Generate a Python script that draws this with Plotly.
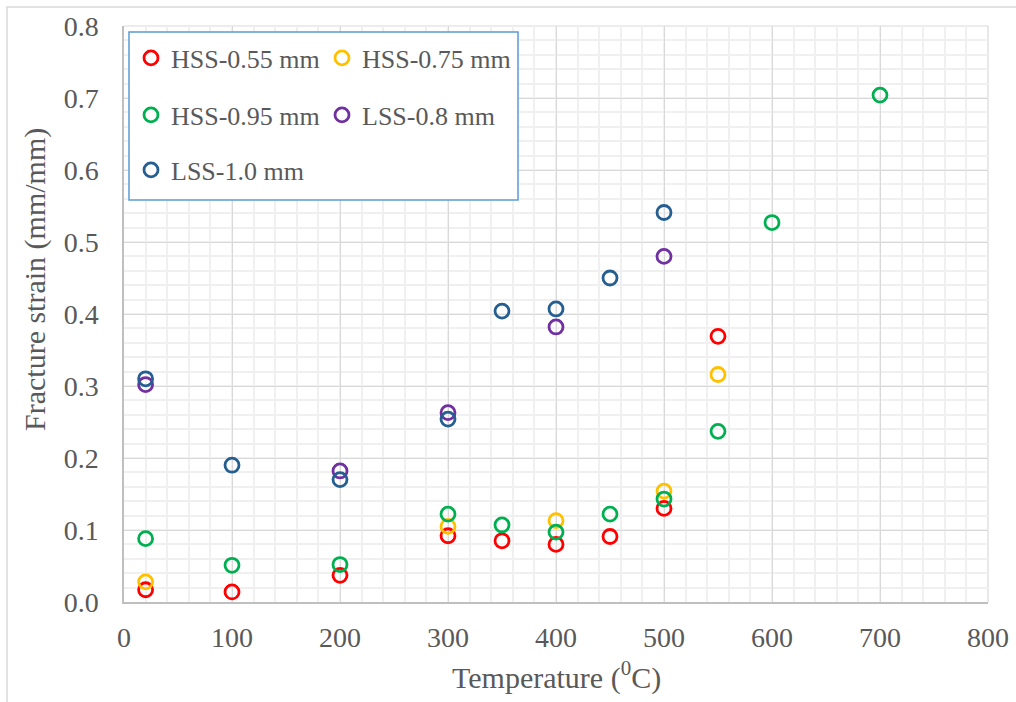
import plotly.graph_objects as go

# ---- data ----
hss055_x = [20, 100, 200, 300, 350, 400, 450, 500, 550]
hss055_y = [0.017, 0.014, 0.037, 0.092, 0.085, 0.080, 0.091, 0.130, 0.369]

hss075_x = [20, 300, 400, 500, 550]
hss075_y = [0.028, 0.105, 0.113, 0.154, 0.316]

hss095_x = [20, 100, 200, 300, 350, 400, 450, 500, 550, 600, 700]
hss095_y = [0.088, 0.051, 0.052, 0.122, 0.107, 0.097, 0.122, 0.143, 0.237, 0.527, 0.704]

lss08_x = [20, 200, 300, 400, 500]
lss08_y = [0.302, 0.182, 0.263, 0.382, 0.480]

lss10_x = [20, 100, 200, 300, 350, 400, 450, 500]
lss10_y = [0.310, 0.190, 0.170, 0.254, 0.404, 0.407, 0.450, 0.541]

series_names = ["HSS-0.55 mm", "HSS-0.75 mm", "HSS-0.95 mm", "LSS-0.8 mm", "LSS-1.0 mm"]
series_colors = ["#FF0000", "#FFC000", "#00B050", "#7030A0", "#255E91"]
series_x = [hss055_x, hss075_x, hss095_x, lss08_x, lss10_x]
series_y = [hss055_y, hss075_y, hss095_y, lss08_y, lss10_y]
series_legend = ["legend", "legend", "legend2", "legend2", "legend3"]

x_ticks = [0, 100, 200, 300, 400, 500, 600, 700, 800]
y_ticks = [0.0, 0.1, 0.2, 0.3, 0.4, 0.5, 0.6, 0.7, 0.8]

FONT = "Liberation Serif, Times New Roman, serif"
TXT = "#595959"

fig = go.Figure()
for name, col, xs, ys, lg in zip(series_names, series_colors, series_x, series_y, series_legend):
    fig.add_trace(go.Scatter(
        x=xs, y=ys, mode="markers", name=name, legend=lg,
        marker=dict(symbol="circle-open", size=14, color=col, line=dict(width=2.8, color=col)),
    ))

W, H = 1016, 702
ml, mr, mt, mb = 124, 28, 26, 100
pw, ph = W - ml - mr, H - mt - mb

def px_x(p):
    return (p - ml) / pw

def px_y(p):
    return (H - mb - p) / ph

leg_common = dict(orientation="h", bgcolor="rgba(0,0,0,0)", borderwidth=0,
                  font=dict(family=FONT, size=26, color=TXT),
                  entrywidth=146, entrywidthmode="pixels",
                  xanchor="left", yanchor="middle", itemwidth=30)

fig.update_layout(
    width=W, height=H,
    margin=dict(l=ml, r=mr, t=mt, b=mb, pad=0, autoexpand=False),
    paper_bgcolor="white", plot_bgcolor="white",
    font=dict(family=FONT, color=TXT),
    showlegend=True,
    legend=dict(x=px_x(131), y=px_y(58), **leg_common),
    legend2=dict(x=px_x(131), y=px_y(115), **leg_common),
    legend3=dict(x=px_x(131), y=px_y(170), **leg_common),
    xaxis=dict(
        range=[0, 800], tickvals=x_ticks, ticktext=[str(v) for v in x_ticks],
        showgrid=True, gridcolor="#d9d9d9", gridwidth=1.2,
        minor=dict(dtick=20, showgrid=True, gridcolor="#f0f0f0", gridwidth=1.5),
        showline=True, linecolor="#bfbfbf", linewidth=1.5, automargin=False,
        zeroline=False, ticks="", ticklabelstandoff=10,
        tickfont=dict(family=FONT, size=28, color=TXT),
    ),
    yaxis=dict(
        range=[0, 0.8], tickvals=y_ticks, ticktext=[f"{v:.1f}" for v in y_ticks],
        showgrid=True, gridcolor="#d9d9d9", gridwidth=1.2,
        minor=dict(dtick=0.02, showgrid=True, gridcolor="#f0f0f0", gridwidth=1.5),
        showline=True, linecolor="#bfbfbf", linewidth=1.5, automargin=False,
        zeroline=False, ticks="", ticklabelstandoff=18,
        tickfont=dict(family=FONT, size=28, color=TXT),
    ),
    annotations=[
        dict(text="Temperature (<sup>0</sup>C)", xref="paper", yref="paper",
             x=0.5, y=px_y(675), xanchor="center", yanchor="middle", showarrow=False,
             font=dict(family=FONT, size=30, color=TXT)),
        dict(text="Fracture strain (mm/mm)", xref="paper", yref="paper",
             x=px_x(35), y=px_y(280), xanchor="center", yanchor="middle", showarrow=False,
             textangle=-90, font=dict(family=FONT, size=30, color=TXT)),
    ],
    shapes=[
        dict(type="rect", xref="paper", yref="paper", layer="above",
             x0=px_x(129), x1=px_x(518), y0=px_y(200), y1=px_y(32),
             line=dict(color="#5B9BD5", width=1.5), fillcolor="white"),
        dict(type="rect", xref="paper", yref="paper", layer="below",
             x0=px_x(7), x1=px_x(1100), y0=px_y(760), y1=px_y(7),
             line=dict(color="#d9d9d9", width=1.5), fillcolor="rgba(0,0,0,0)"),
        dict(type="line", xref="paper", yref="paper", layer="below",
             x0=0, x1=1, y0=1, y1=1, line=dict(color="#d9d9d9", width=1.2)),
        dict(type="line", xref="paper", yref="paper", layer="below",
             x0=1, x1=1, y0=0, y1=1, line=dict(color="#d9d9d9", width=1.2)),
    ],
)

fig.write_html("out.html")
